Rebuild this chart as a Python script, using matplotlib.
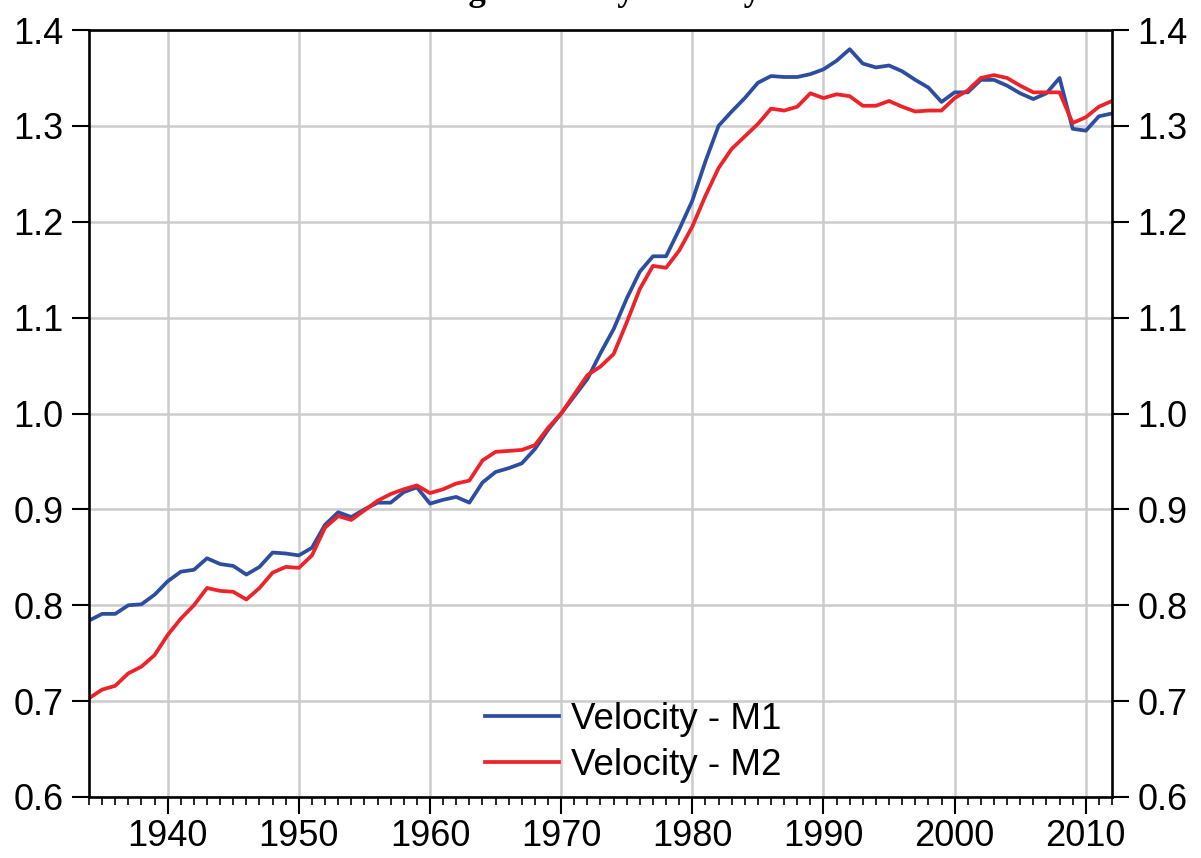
import matplotlib
matplotlib.use("Agg")
import matplotlib.pyplot as plt
from matplotlib.ticker import MultipleLocator

years = list(range(1934, 2013))

velocity_m1 = [
    0.784, 0.791, 0.791, 0.800, 0.801, 0.811, 0.825, 0.835, 0.837, 0.849,
    0.843, 0.841, 0.832, 0.840, 0.855, 0.854, 0.852, 0.860, 0.884, 0.897,
    0.892, 0.900, 0.907, 0.907, 0.918, 0.923, 0.906, 0.910, 0.913, 0.907,
    0.928, 0.939, 0.943, 0.948, 0.963, 0.983, 1.000, 1.018, 1.036, 1.063,
    1.088, 1.120, 1.148, 1.164, 1.164, 1.192, 1.222, 1.263, 1.300, 1.315,
    1.329, 1.345, 1.352, 1.351, 1.351, 1.354, 1.359, 1.368, 1.380, 1.365,
    1.361, 1.363, 1.357, 1.348, 1.340, 1.325, 1.335, 1.335, 1.348, 1.348,
    1.342, 1.334, 1.328, 1.334, 1.350, 1.297, 1.295, 1.310, 1.313,
]

velocity_m2 = [
    0.703, 0.712, 0.716, 0.729, 0.736, 0.748, 0.769, 0.786, 0.800, 0.818,
    0.815, 0.814, 0.806, 0.818, 0.834, 0.840, 0.839, 0.852, 0.881, 0.893,
    0.889, 0.899, 0.909, 0.916, 0.921, 0.925, 0.917, 0.921, 0.927, 0.930,
    0.951, 0.960, 0.961, 0.962, 0.967, 0.985, 1.000, 1.020, 1.040, 1.049,
    1.062, 1.095, 1.130, 1.154, 1.152, 1.170, 1.195, 1.227, 1.256, 1.276,
    1.289, 1.302, 1.318, 1.316, 1.320, 1.334, 1.329, 1.333, 1.331, 1.321,
    1.321, 1.326, 1.320, 1.315, 1.316, 1.316, 1.329, 1.337, 1.350, 1.353,
    1.350, 1.342, 1.335, 1.335, 1.335, 1.303, 1.309, 1.320, 1.326,
]

labels = ["Velocity - M1", "Velocity - M2"]
colors = ["#2d4ea0", "#ee2229"]

plt.rcParams['font.family'] = ['Liberation Sans', 'DejaVu Sans']

fig = plt.figure(figsize=(12.01, 8.58), dpi=100)
ax = fig.add_axes([0.0741, 0.0711, 0.8518, 0.8939])

ax.plot(years, velocity_m1, color=colors[0], lw=2.7, label=labels[0], zorder=3)
ax.plot(years, velocity_m2, color=colors[1], lw=2.7, label=labels[1], zorder=3)

ax.set_xlim(1934, 2012)
ax.set_ylim(0.6, 1.4)
ax.xaxis.set_major_locator(MultipleLocator(10))
ax.xaxis.set_minor_locator(MultipleLocator(1))
ax.yaxis.set_major_locator(MultipleLocator(0.1))
ax.yaxis.set_major_formatter(plt.FormatStrFormatter('%.1f'))

ax.grid(True, which='major', color='#cccccc', lw=1.8)
ax.set_axisbelow(True)
for s in ax.spines.values():
    s.set_linewidth(1.9)
    s.set_zorder(4)

ax.tick_params(axis='x', which='major', direction='out', length=12.5, width=1.5,
               labelsize=26, pad=3)
ax.tick_params(axis='x', which='minor', direction='out', length=6, width=1.2)
ax.tick_params(axis='y', which='major', direction='out', length=12.5, width=1.5,
               labelsize=26, pad=6, left=True, right=True, labelleft=True, labelright=True)

leg = ax.legend(loc='upper left', bbox_to_anchor=(485 / 1201, 1 - 702 / 858),
                bbox_transform=fig.transFigure, frameon=False, fontsize=26.5,
                handlelength=2.0, handletextpad=0.35, labelspacing=0.3,
                borderpad=0, borderaxespad=0)

# title sits mostly above the canvas, only descenders show
fig.text(0.495, 1.0, "Log of Money Velocity", ha='center', va='baseline',
         fontsize=25, fontweight='bold', family=['Liberation Serif', 'DejaVu Serif'])

fig.savefig("out.png", dpi=100)
